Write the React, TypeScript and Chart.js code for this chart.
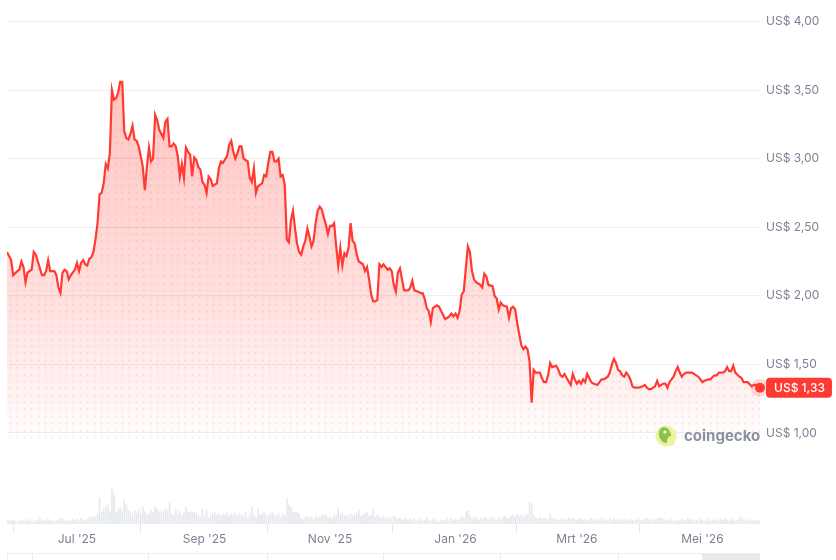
import React, { useEffect, useRef } from "react";
import Chart from "chart.js/auto";

// Days counted from 1 Jul 2025 (day 0)
const priceDays = [
  -34, -32, -31, -29, -28, -27, -26, -25, -24, -22, -21, -20, -19, -17, -16, -15, -14, -13, -11, -10,
  -9, -8, -7, -6, -5, -4, -3, -1, 0, 1, 2, 3, 4, 5, 6, 7, 8, 9, 10, 11,
  12, 13, 14, 15, 16, 17, 18, 19, 20, 21, 22, 23, 24, 25, 26, 27, 28, 29, 30, 31,
  32, 33, 34, 35, 36, 37, 38, 39, 40, 42, 43, 44, 45, 46, 47, 48, 49, 50, 51, 52,
  53, 54, 55, 56, 57, 58, 59, 60, 61, 62, 63, 64, 65, 66, 67, 68, 69, 70, 71, 73,
  74, 75, 76, 77, 78, 79, 80, 81, 82, 83, 84, 85, 86, 87, 88, 90, 91, 92, 93, 94,
  95, 96, 97, 98, 99, 100, 101, 102, 103, 104, 105, 106, 107, 108, 109, 110, 111, 112, 113, 114,
  115, 116, 117, 118, 119, 120, 121, 122, 123, 124, 125, 126, 127, 128, 129, 130, 131, 132, 133, 134,
  135, 136, 137, 139, 140, 141, 142, 143, 144, 145, 146, 147, 148, 149, 150, 151, 152, 153, 154, 155,
  156, 157, 158, 159, 161, 162, 163, 164, 166, 167, 168, 169, 170, 171, 172, 173, 175, 176, 177, 178,
  179, 181, 182, 183, 184, 185, 186, 187, 188, 189, 190, 191, 192, 193, 194, 196, 197, 198, 199, 200,
  202, 203, 204, 205, 206, 207, 209, 210, 211, 212, 213, 214, 215, 216, 217, 218, 219, 220, 221, 222,
  223, 224, 225, 226, 227, 228, 229, 230, 231, 233, 234, 235, 236, 237, 238, 240, 241, 242, 243, 244,
  245, 246, 247, 248, 249, 250, 251, 253, 254, 255, 256, 258, 259, 260, 261, 262, 263, 264, 265, 266,
  267, 268, 269, 270, 271, 273, 275, 276, 277, 278, 279, 280, 281, 282, 283, 284, 285, 286, 287, 288,
  289, 290, 291, 292, 293, 294, 295, 296, 298, 299, 301, 302, 303, 304, 305, 307, 308, 309, 310, 311,
  312, 314, 315, 316, 317, 318, 319, 320, 322, 323, 324, 325, 326, 328, 329, 330, 332,
];

const prices = [
  2.32, 2.26, 2.15, 2.18, 2.19, 2.25, 2.21, 2.10, 2.17, 2.19, 2.32, 2.30, 2.25, 2.15, 2.15, 2.18, 2.26, 2.18, 2.18, 2.15,
  2.06, 2.02, 2.17, 2.19, 2.18, 2.12, 2.15, 2.19, 2.24, 2.18, 2.24, 2.26, 2.23, 2.22, 2.27, 2.28, 2.32, 2.41, 2.53, 2.74,
  2.75, 2.82, 2.96, 2.93, 3.04, 3.50, 3.43, 3.44, 3.48, 3.56, 3.56, 3.20, 3.15, 3.14, 3.18, 3.24, 3.14, 3.13, 3.09, 3.02,
  2.94, 2.77, 2.94, 3.08, 2.98, 3.00, 3.32, 3.28, 3.21, 3.15, 3.27, 3.29, 3.09, 3.09, 3.11, 3.09, 3.02, 2.87, 2.96, 2.86,
  3.08, 3.05, 3.03, 2.87, 3.01, 2.99, 2.94, 2.92, 2.83, 2.81, 2.75, 2.87, 2.85, 2.80, 2.81, 2.82, 2.93, 2.98, 2.97, 3.02,
  3.10, 3.13, 3.05, 3.00, 3.04, 3.09, 3.09, 3.00, 2.99, 2.98, 2.86, 2.83, 2.93, 2.75, 2.80, 2.82, 2.88, 2.87, 2.97, 3.05,
  3.05, 2.98, 2.98, 3.00, 2.87, 2.88, 2.81, 2.41, 2.39, 2.55, 2.62, 2.49, 2.38, 2.32, 2.30, 2.36, 2.40, 2.49, 2.43, 2.36,
  2.40, 2.53, 2.62, 2.65, 2.63, 2.57, 2.52, 2.45, 2.51, 2.51, 2.53, 2.36, 2.22, 2.35, 2.22, 2.31, 2.29, 2.35, 2.53, 2.40,
  2.38, 2.30, 2.25, 2.23, 2.18, 2.21, 2.12, 2.01, 1.96, 1.96, 1.97, 2.23, 2.21, 2.23, 2.21, 2.19, 2.20, 2.18, 2.08, 2.03,
  2.17, 2.20, 2.12, 2.04, 2.04, 2.06, 2.11, 2.04, 2.03, 2.02, 2.02, 1.98, 1.91, 1.89, 1.81, 1.91, 1.93, 1.92, 1.89, 1.86,
  1.83, 1.85, 1.87, 1.85, 1.87, 1.84, 1.89, 2.01, 2.03, 2.20, 2.36, 2.32, 2.18, 2.12, 2.10, 2.08, 2.06, 2.16, 2.14, 2.08,
  2.07, 2.00, 1.98, 1.90, 1.95, 1.93, 1.92, 1.84, 1.91, 1.92, 1.90, 1.80, 1.72, 1.64, 1.61, 1.63, 1.61, 1.52, 1.22, 1.46,
  1.44, 1.44, 1.44, 1.40, 1.37, 1.37, 1.42, 1.51, 1.48, 1.49, 1.46, 1.42, 1.41, 1.43, 1.40, 1.35, 1.43, 1.39, 1.36, 1.38,
  1.36, 1.39, 1.37, 1.43, 1.40, 1.37, 1.36, 1.35, 1.37, 1.39, 1.39, 1.41, 1.44, 1.50, 1.54, 1.51, 1.46, 1.45, 1.42, 1.41,
  1.44, 1.42, 1.39, 1.34, 1.33, 1.33, 1.34, 1.35, 1.33, 1.32, 1.32, 1.33, 1.34, 1.38, 1.34, 1.35, 1.36, 1.36, 1.33, 1.37,
  1.39, 1.41, 1.45, 1.48, 1.44, 1.41, 1.43, 1.44, 1.44, 1.44, 1.42, 1.41, 1.39, 1.37, 1.38, 1.39, 1.39, 1.41, 1.42, 1.42,
  1.44, 1.44, 1.45, 1.48, 1.45, 1.45, 1.49, 1.44, 1.41, 1.40, 1.37, 1.37, 1.37, 1.34, 1.35, 1.35, 1.33,
];

// Daily volume (relative units), first value = day -34
const volumeStartDay = -34;
const volumes = [
  3, 4, 3, 4, 3, 2, 3, 4, 3, 3, 4, 5, 3, 2, 4, 3, 6, 4, 3, 3, 5, 3, 4, 2, 3, 4, 6, 5, 4, 3, 4, 3, 5, 4,
  5, 3, 6, 4, 3, 5, 7, 6, 8, 7,
  10, 26, 12, 15, 17, 19, 12, 35, 29, 11, 14,
  16, 13, 24, 19, 14, 12, 9, 13, 11, 15,
  10, 17, 12, 9, 10, 14, 11, 17, 15, 12,
  13, 12, 15, 13, 21, 10, 9, 14, 10, 13,
  9, 11, 17, 12, 11, 12, 12, 11, 9, 7, 14, 8,
  14, 6, 9, 11, 11, 9, 10, 8, 10, 9, 11, 8, 10,
  9, 11, 8, 10, 9, 8, 11, 6, 10, 17, 9, 6, 15, 9, 10,
  11, 9, 8, 10, 11, 9, 8, 11, 7, 10, 8, 26, 19, 17, 12,
  11, 12, 10, 6, 5, 7, 8, 6, 7, 5, 8, 6, 7, 9, 8, 9, 6, 7, 5, 8,
  9, 16, 10, 11, 8, 9, 7, 10, 8, 9, 11, 13, 8, 9, 10, 12, 8, 9, 15, 7,
  9, 7, 6, 8, 5, 6, 7, 5, 8, 6, 5, 6, 4, 5, 6, 4, 5, 4, 6, 3,
  4, 5, 3, 4, 6, 4, 3, 5, 4, 3, 2, 4, 3, 4, 5, 3, 6, 4, 5, 4,
  5, 8, 6, 12, 13, 9, 5, 6, 7, 4, 6, 5, 7, 6, 4,
  7, 6, 5, 4, 6, 5, 7, 8, 6, 5, 8, 9, 7, 10, 8, 9, 7, 10, 9, 22,
  20, 9, 6, 5, 7, 5, 6, 5, 4, 9, 6, 5, 5, 4, 5, 6, 4, 5, 7, 5,
  6, 5, 4, 6, 5, 4, 5, 3, 4, 6, 5, 4, 5, 3, 7, 5, 4, 3, 5, 4,
  6, 4, 5, 3, 4, 5, 3, 4, 5, 4, 3, 4, 5, 3, 4, 5, 6, 4, 5, 3,
  4, 5, 7, 6, 5, 4, 3, 4, 5, 3, 4, 3, 4, 5, 3, 4, 6, 4, 5, 3,
  4, 3, 5, 4, 3, 4, 5, 3, 4, 5, 4, 3, 5, 4, 6, 4, 3, 5, 4, 3,
  4, 6, 7, 4, 3, 4, 5, 3, 4, 3, 4, 3,
];

const tickDays = [0, 62, 123, 184, 243, 304];
const tickLabels = ["Jul '25", "Sep '25", "Nov '25", "Jan '26", "Mrt '26", "Mei '26"];
const priceTicks = [1, 1.5, 2, 2.5, 3, 3.5, 4];
const lastLabel = "US$ 1,33";
const watermarkText = "coingecko";

const LINE = "#ff3a33";
const TEXT = "#7a8394";
const FONT = 'Inter, "Noto Sans", "DejaVu Sans", sans-serif';

const fmt = (v: number) => "US$ " + v.toFixed(2).replace(".", ",");

export default function App() {
  const ref = useRef<HTMLCanvasElement | null>(null);

  useEffect(() => {
    document.body.style.margin = "0";
    const canvas = ref.current;
    if (!canvas) return;

    const dotCanvas = document.createElement("canvas");
    dotCanvas.width = 7;
    dotCanvas.height = 7;
    const dg = dotCanvas.getContext("2d")!;
    dg.fillStyle = "rgba(255,90,90,0.13)";
    dg.beginPath();
    dg.arc(3.5, 3.5, 1.2, 0, Math.PI * 2);
    dg.fill();

    const hatchCanvas = document.createElement("canvas");
    hatchCanvas.width = 4;
    hatchCanvas.height = 4;
    const hg = hatchCanvas.getContext("2d")!;
    hg.fillStyle = "#e9ebee";
    hg.fillRect(0, 0, 4, 4);
    hg.fillStyle = "#cfd3d9";
    hg.fillRect(0, 0, 1, 1);
    hg.fillRect(2, 2, 1, 1);

    const pricePoints = priceDays.map((d, i) => ({ x: d, y: prices[i] }));
    const volumePoints = volumes.map((v, i) => ({ x: volumeStartDay + i, y: v }));

    const overlay = {
      id: "overlay",
      afterDatasetsDraw(chart: any) {
        const { ctx, scales } = chart;
        const x = scales.x.getPixelForValue(priceDays[priceDays.length - 1]);
        const y = scales.y.getPixelForValue(prices[prices.length - 1]);
        ctx.save();
        ctx.fillStyle = "rgba(255,59,48,0.18)";
        ctx.beginPath();
        ctx.arc(x, y, 9, 0, Math.PI * 2);
        ctx.fill();
        ctx.fillStyle = LINE;
        ctx.beginPath();
        ctx.arc(x, y, 5, 0, Math.PI * 2);
        ctx.fill();
        ctx.restore();
      },
      afterDraw(chart: any) {
        const { ctx, chartArea, scales } = chart;
        const y = scales.y.getPixelForValue(prices[prices.length - 1]);
        ctx.save();
        // badge
        ctx.font = "500 12px " + FONT;
        const tw = ctx.measureText(lastLabel).width;
        const bx = chartArea.right + 6;
        const bw = tw + 15;
        const bh = 20;
        ctx.fillStyle = LINE;
        ctx.beginPath();
        (ctx as any).roundRect(bx, y - bh / 2, bw, bh, 4);
        ctx.fill();
        ctx.fillStyle = "#ffffff";
        ctx.textBaseline = "middle";
        ctx.textAlign = "left";
        ctx.fillText(lastLabel, bx + 8, y + 0.5);

        // watermark
        const lx = chartArea.right - 94;
        const ly = chartArea.top + 414.5;
        ctx.fillStyle = "#eef3a0";
        ctx.beginPath();
        ctx.arc(lx, ly, 10.5, 0, Math.PI * 2);
        ctx.fill();
        ctx.fillStyle = "#8bc34a";
        ctx.beginPath();
        ctx.ellipse(lx - 1, ly - 1, 6, 8, -0.3, 0, Math.PI * 2);
        ctx.fill();
        ctx.fillStyle = "#eef3a0";
        ctx.beginPath();
        ctx.ellipse(lx + 5, ly + 5, 4, 5, 0, 0, Math.PI * 2);
        ctx.fill();
        ctx.fillStyle = "#ffffff";
        ctx.beginPath();
        ctx.arc(lx - 1, ly - 4, 1.6, 0, Math.PI * 2);
        ctx.fill();
        ctx.font = "bold 15px " + FONT;
        ctx.fillStyle = "#8a929e";
        ctx.textBaseline = "middle";
        ctx.fillText(watermarkText, lx + 18, ly);

        // navigator strip
        const nx0 = chartArea.left;
        const nx1 = chartArea.right;
        const nw = nx1 - nx0;
        const ny = chartArea.bottom + 29;
        ctx.fillStyle = "#ffffff";
        ctx.fillRect(nx0, ny, nw, 20);
        ctx.fillStyle = ctx.createPattern(hatchCanvas, "repeat");
        ctx.fillRect(nx0 + 0.923 * nw, ny + 1, nw * 0.077, 20);
        ctx.strokeStyle = "#eceef1";
        ctx.lineWidth = 1;
        ctx.beginPath();
        ctx.moveTo(nx0, ny + 0.5);
        ctx.lineTo(nx1, ny + 0.5);
        [0, 0.033, 0.187, 0.345, 0.499, 0.655, 0.811, 0.969].forEach((f) => {
          const px = Math.round(nx0 + f * nw) + 0.5;
          ctx.moveTo(px, ny);
          ctx.lineTo(px, ny + 20);
        });
        ctx.stroke();
        ctx.restore();
      },
    };

    const chart = new Chart(canvas, {
      type: "line",
      data: {
        datasets: [
          {
            type: "line",
            data: pricePoints,
            borderColor: LINE,
            borderWidth: 2.2,
            pointRadius: 0,
            tension: 0,
            yAxisID: "y",
            order: 0,
            fill: { target: { value: 0.95 } },
            backgroundColor: (c: any) => {
              const { ctx, chartArea, scales } = c.chart;
              if (!chartArea) return "rgba(255,59,48,0.15)";
              const y0 = scales.y.getPixelForValue(3.6);
              const y1 = scales.y.getPixelForValue(0.95);
              const g = ctx.createLinearGradient(0, y0, 0, y1);
              g.addColorStop(0, "rgba(255,59,48,0.30)");
              g.addColorStop(0.6, "rgba(255,59,48,0.16)");
              g.addColorStop(0.88, "rgba(255,59,48,0.06)");
              g.addColorStop(1, "rgba(255,59,48,0.0)");
              return g;
            },
          } as any,
          {
            type: "line",
            data: pricePoints,
            borderWidth: 0,
            borderColor: "rgba(0,0,0,0)",
            pointRadius: 0,
            tension: 0,
            yAxisID: "y",
            order: 1,
            fill: { target: { value: 0.95 } },
            backgroundColor: (c: any) => c.chart.ctx.createPattern(dotCanvas, "repeat"),
          } as any,
          {
            type: "bar",
            data: volumePoints,
            backgroundColor: "#e6e9ed",
            barThickness: 1,
            grouped: false,
            yAxisID: "yv",
            order: 2,
          } as any,
        ],
      },
      options: {
        animation: false,
        responsive: false,
        layout: { padding: { left: 7, top: 21.5, right: 0, bottom: 0 } },
        plugins: { legend: { display: false }, tooltip: { enabled: false } },
        events: [],
        scales: {
          x: {
            type: "linear",
            min: priceDays[0],
            max: priceDays[priceDays.length - 1],
            offset: false,
            afterBuildTicks: (s: any) => {
              s.ticks = tickDays.map((v) => ({ value: v }));
            },
            afterFit: (s: any) => {
              s.height = 36;
            },
            ticks: {
              autoSkip: false,
              maxRotation: 0,
              padding: 0,
              color: TEXT,
              font: { size: 12, family: FONT },
              callback: (v: any) => {
                const i = tickDays.indexOf(Number(v));
                return i >= 0 ? tickLabels[i] : "";
              },
            },
            grid: { drawOnChartArea: false, drawTicks: true, tickLength: 8, color: "#e3e6ea" },
            border: { display: false },
          },
          y: {
            type: "linear",
            position: "right",
            min: 0.336,
            max: 4.0,
            afterBuildTicks: (s: any) => {
              s.ticks = priceTicks.map((v) => ({ value: v }));
            },
            afterFit: (s: any) => {
              s.width = 76;
            },
            ticks: {
              padding: 6,
              color: TEXT,
              font: { size: 12, family: FONT },
              callback: (v: any) => fmt(Number(v)),
            },
            grid: { color: "#eceef1", drawTicks: false, tickLength: 0 },
            border: { display: false },
          },
          yv: {
            type: "linear",
            display: false,
            min: 0,
            max: 500,
          },
        },
      } as any,
      plugins: [overlay],
    });

    return () => chart.destroy();
  }, []);

  return (
    <div style={{ width: 836, height: 560 }}>
      <canvas ref={ref} width={836} height={560} style={{ display: "block" }} />
    </div>
  );
}
